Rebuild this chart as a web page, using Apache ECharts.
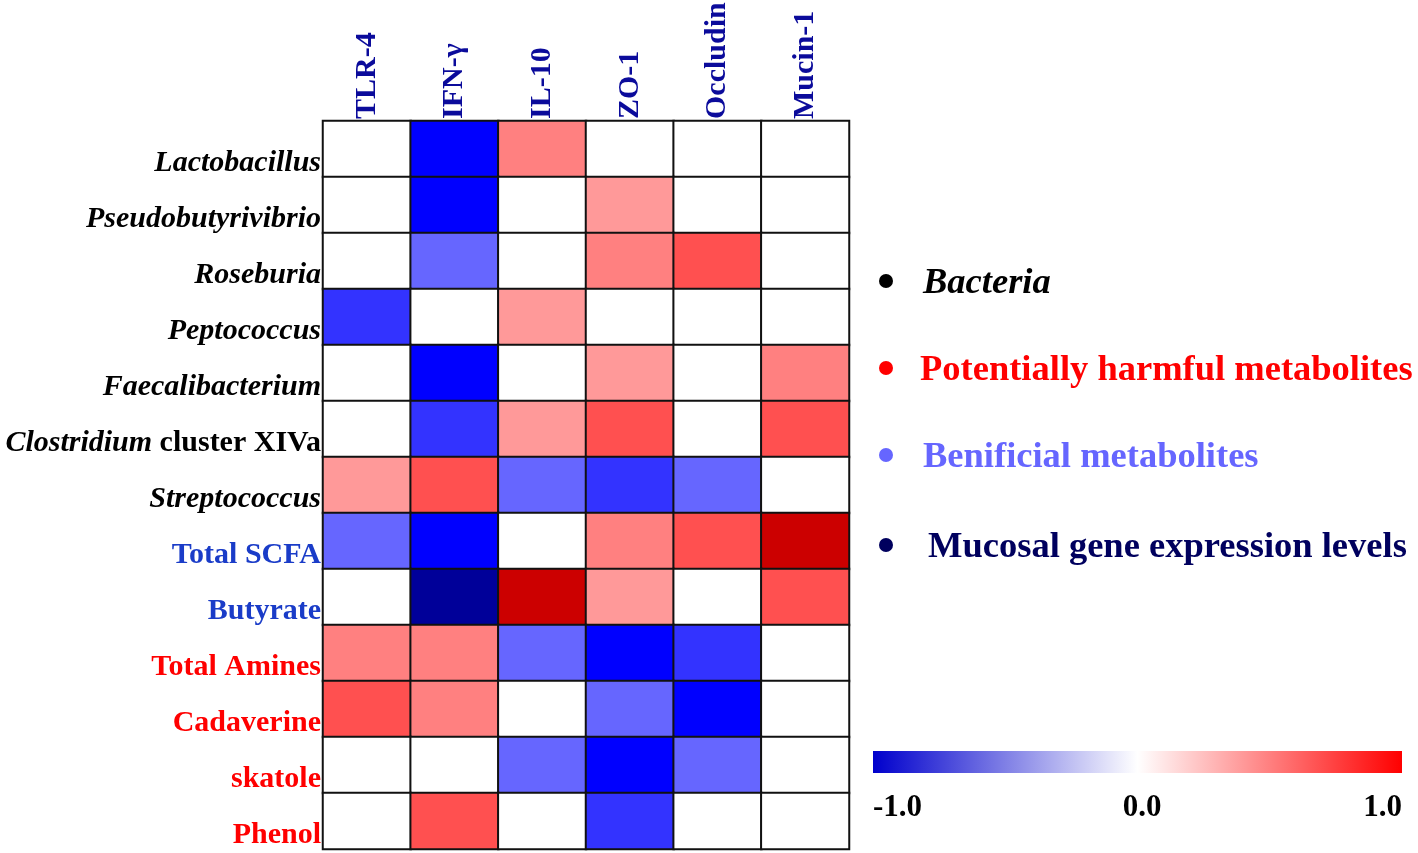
<!DOCTYPE html>
<html>
<head>
<meta charset="utf-8">
<script src="https://cdn.jsdelivr.net/npm/echarts@6/dist/echarts.min.js"></script>
<style>html,body{margin:0;padding:0;background:#fff}#c{width:1418px;height:853px}</style>
</head>
<body>
<div id="c"></div>
<script>
// Columns (mucosal genes)
var genes = ['TLR-4', 'IFN-γ', 'IL-10', 'ZO-1', 'Occludin', 'Mucin-1'];
// Rows
var rows = ['Lactobacillus', 'Pseudobutyrivibrio', 'Roseburia', 'Peptococcus', 'Faecalibacterium',
  'Clostridium cluster XIVa', 'Streptococcus', 'Total SCFA', 'Butyrate', 'Total Amines',
  'Cadaverine', 'skatole', 'Phenol'];
var rowKind = ['bacteria', 'bacteria', 'bacteria', 'bacteria', 'bacteria', 'bacteria', 'bacteria',
  'beneficial', 'beneficial', 'harmful', 'harmful', 'harmful', 'harmful'];
// Correlation values per row (order of genes)
var lactobacillus      = [0, -0.8, 0.5, 0, 0, 0];
var pseudobutyrivibrio = [0, -0.8, 0, 0.4, 0, 0];
var roseburia          = [0, -0.6, 0, 0.5, 0.6, 0];
var peptococcus        = [-0.7, 0, 0.4, 0, 0, 0];
var faecalibacterium   = [0, -0.8, 0, 0.4, 0, 0.5];
var clostridium        = [0, -0.7, 0.4, 0.6, 0, 0.6];
var streptococcus      = [0.4, 0.6, -0.6, -0.7, -0.6, 0];
var totalSCFA          = [-0.6, -0.8, 0, 0.5, 0.6, 0.8];
var butyrate           = [0, -0.9, 0.8, 0.4, 0, 0.6];
var totalAmines        = [0.5, 0.5, -0.6, -0.8, -0.7, 0];
var cadaverine         = [0.6, 0.5, 0, -0.6, -0.8, 0];
var skatole            = [0, 0, -0.6, -0.8, -0.6, 0];
var phenol             = [0, 0.6, 0, -0.7, 0, 0];
var matrix = [lactobacillus, pseudobutyrivibrio, roseburia, peptococcus, faecalibacterium,
  clostridium, streptococcus, totalSCFA, butyrate, totalAmines, cadaverine, skatole, phenol];
// Legend entries
var legendItems = ['Bacteria', 'Potentially harmful metabolites', 'Benificial metabolites', 'Mucosal gene expression levels'];
var scaleTicks = ['-1.0', '0.0', '1.0'];

var data = [];
matrix.forEach(function (r, i) {
  r.forEach(function (v, j) { data.push([j, i, v]); });
});

var F = 'Liberation Serif, Times New Roman, serif';
var kindStyle = { bacteria: 'b', beneficial: 's', harmful: 'h' };

var chart = echarts.init(document.getElementById('c'));
var legendColors = ['#000000', '#ff0000', '#6666ff', '#00005e'];
var legendY = [284, 371, 458, 548];
var graphics = [];
legendItems.forEach(function (t, i) {
  graphics.push({ type: 'circle', shape: { cx: 886, cy: legendY[i] - 3, r: 7 }, style: { fill: legendColors[i] } });
  graphics.push({ type: 'text', x: i === 3 ? 928 : (i === 1 ? 920 : 923), y: legendY[i], style: {
    text: t, fill: legendColors[i], font: (i === 0 ? 'italic ' : '') + 'bold 36.5px ' + F,
    textVerticalAlign: 'middle', textAlign: 'left' } });
});
graphics.push({ type: 'rect', shape: { x: 873, y: 751, width: 529, height: 22 }, style: {
  fill: new echarts.graphic.LinearGradient(0, 0, 1, 0, [
    { offset: 0, color: '#0000cc' }, { offset: 0.5, color: '#ffffff' }, { offset: 1, color: '#ff0000' }]) } });
var tickX = [873, 1142, 1402];
var tickAlign = ['left', 'center', 'right'];
scaleTicks.forEach(function (t, i) {
  graphics.push({ type: 'text', x: tickX[i], y: 808, style: { text: t, fill: '#000',
    font: 'bold 31px ' + F, textAlign: tickAlign[i], textVerticalAlign: 'middle' } });
});

chart.setOption({
  animation: false,
  backgroundColor: '#fff',
  grid: { left: 323, right: 569, top: 121, bottom: 4, containLabel: false, outerBoundsMode: 'none' },
  xAxis: {
    type: 'category', data: genes, position: 'top',
    axisLine: { show: false }, axisTick: { show: false }, splitLine: { show: false },
    axisLabel: { rotate: -90, margin: 2, color: '#0b0b9b', fontSize: 30, fontWeight: 'bold', fontFamily: F }
  },
  yAxis: {
    type: 'category', data: rows, inverse: true,
    axisLine: { show: false }, axisTick: { show: false }, splitLine: { show: false },
    axisLabel: {
      margin: 2, padding: [28, 0, 0, 0],
      formatter: function (v, idx) {
        if (v === 'Clostridium cluster XIVa') return '{b|Clostridium}{n| cluster XIVa}';
        var k = kindStyle[rowKind[rows.indexOf(v)]];
        return '{' + k + '|' + v + '}';
      },
      rich: {
        b: { fontStyle: 'italic', fontWeight: 'bold', color: '#000', fontSize: 30, fontFamily: F },
        n: { fontWeight: 'bold', color: '#000', fontSize: 30, fontFamily: F },
        s: { fontWeight: 'bold', color: '#1a3cc8', fontSize: 30, fontFamily: F },
        h: { fontWeight: 'bold', color: '#ff0000', fontSize: 30, fontFamily: F }
      }
    }
  },
  visualMap: {
    type: 'piecewise', show: false,
    pieces: [
      { value: -0.9, color: '#000099' }, { value: -0.8, color: '#0000ff' },
      { value: -0.7, color: '#3333ff' }, { value: -0.6, color: '#6666ff' },
      { value: 0, color: '#ffffff' }, { value: 0.4, color: '#ff9999' },
      { value: 0.5, color: '#ff8080' }, { value: 0.6, color: '#ff5050' },
      { value: 0.8, color: '#cc0000' }
    ]
  },
  series: [{
    type: 'heatmap', data: data,
    itemStyle: { borderColor: '#111', borderWidth: 2 },
    emphasis: { disabled: true }
  }],
  graphic: graphics
});
</script>
</body>
</html>
